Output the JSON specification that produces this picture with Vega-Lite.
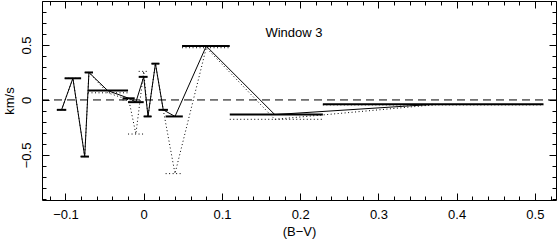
{
  "$schema": "https://vega.github.io/schema/vega-lite/v6.json",
  "autosize": "none",
  "width": 514,
  "height": 199,
  "padding": {"left": 42, "top": 1, "right": 3, "bottom": 42},
  "config": {
    "view": {"stroke": "#000", "strokeWidth": 1},
    "font": "Liberation Sans",
    "axis": {"grid": false, "domain": false, "tickColor": "#000", "labelColor": "#000", "titleColor": "#000", "labelFont": "Liberation Sans", "titleFont": "Liberation Sans", "labelFontSize": 13, "titleFontSize": 13, "titleFontWeight": "normal"}
  },
  "datasets": {
    "pts": [
      {"x": -0.105, "xlo": -0.111, "xhi": -0.099, "y": -0.09, "s": "solid"},
      {"x": -0.0905, "xlo": -0.101, "xhi": -0.080, "y": 0.197, "s": "solid"},
      {"x": -0.0754, "xlo": -0.0806, "xhi": -0.070, "y": -0.515, "s": "solid"},
      {"x": -0.070, "xlo": -0.0754, "xhi": -0.0648, "y": 0.25, "s": "solid"},
      {"x": -0.046, "xlo": -0.0712, "xhi": -0.020, "y": 0.085, "s": "solid"},
      {"x": -0.019, "xlo": -0.027, "xhi": -0.0115, "y": 0.015, "s": "solid"},
      {"x": -0.010, "xlo": -0.020, "xhi": 0.0, "y": -0.02, "s": "solid"},
      {"x": 0.0, "xlo": -0.0064, "xhi": 0.005, "y": 0.21, "s": "solid"},
      {"x": 0.0055, "xlo": 0.0, "xhi": 0.010, "y": -0.15, "s": "solid"},
      {"x": 0.015, "xlo": 0.010, "xhi": 0.020, "y": 0.33, "s": "solid"},
      {"x": 0.025, "xlo": 0.019, "xhi": 0.031, "y": -0.09, "s": "solid"},
      {"x": 0.040, "xlo": 0.028, "xhi": 0.050, "y": -0.15, "s": "solid"},
      {"x": 0.080, "xlo": 0.049, "xhi": 0.110, "y": 0.49, "s": "solid"},
      {"x": 0.1675, "xlo": 0.110, "xhi": 0.229, "y": -0.133, "s": "solid"},
      {"x": 0.37, "xlo": 0.229, "xhi": 0.511, "y": -0.04, "s": "solid"},
      {"x": -0.105, "xlo": -0.111, "xhi": -0.099, "y": -0.09, "s": "dotted"},
      {"x": -0.0905, "xlo": -0.101, "xhi": -0.080, "y": 0.197, "s": "dotted"},
      {"x": -0.0754, "xlo": -0.0806, "xhi": -0.070, "y": -0.515, "s": "dotted"},
      {"x": -0.070, "xlo": -0.0754, "xhi": -0.0648, "y": 0.25, "s": "dotted"},
      {"x": -0.046, "xlo": -0.0712, "xhi": -0.020, "y": 0.065, "s": "dotted"},
      {"x": -0.019, "xlo": -0.027, "xhi": -0.0115, "y": 0.0, "s": "dotted"},
      {"x": -0.010, "xlo": -0.020, "xhi": 0.0, "y": -0.31, "s": "dotted"},
      {"x": 0.0, "xlo": -0.0064, "xhi": 0.005, "y": 0.26, "s": "dotted"},
      {"x": 0.0055, "xlo": 0.0, "xhi": 0.010, "y": -0.15, "s": "dotted"},
      {"x": 0.015, "xlo": 0.010, "xhi": 0.020, "y": 0.33, "s": "dotted"},
      {"x": 0.025, "xlo": 0.019, "xhi": 0.031, "y": -0.09, "s": "dotted"},
      {"x": 0.040, "xlo": 0.028, "xhi": 0.050, "y": -0.67, "s": "dotted"},
      {"x": 0.080, "xlo": 0.049, "xhi": 0.110, "y": 0.475, "s": "dotted"},
      {"x": 0.1675, "xlo": 0.110, "xhi": 0.229, "y": -0.176, "s": "dotted"},
      {"x": 0.37, "xlo": 0.229, "xhi": 0.511, "y": -0.045, "s": "dotted"}
    ]
  },
  "resolve": {"axis": {"x": "independent", "y": "independent"}},
  "layer": [
    {
      "data": {"values": [{"zero": 0}]},
      "mark": {"type": "rule", "color": "#000", "strokeWidth": 1, "strokeDash": [8, 5]},
      "encoding": {
        "y": {"field": "zero", "type": "quantitative", "scale": {"domain": [-0.91, 0.9], "nice": false, "zero": false}, "axis": null}
      }
    },
    {
      "data": {"name": "pts"},
      "transform": [{"filter": "datum.s === 'dotted'"}],
      "mark": {"type": "line", "color": "#000", "strokeWidth": 1, "strokeDash": [1, 2.5]},
      "encoding": {
        "x": {"field": "x", "type": "quantitative", "scale": {"domain": [-0.13, 0.527], "nice": false, "zero": false},
          "axis": {"orient": "bottom", "values": [-0.1, 0, 0.1, 0.2, 0.3, 0.4, 0.5], "format": "~g", "ticks": false, "labelPadding": 8, "title": "(B−V)", "titlePadding": 4}},
        "y": {"field": "y", "type": "quantitative", "scale": {"domain": [-0.91, 0.9], "nice": false, "zero": false},
          "axis": {"orient": "left", "values": [-0.5, 0, 0.5], "format": "~g", "ticks": false, "labelAngle": -90, "labelAlign": "center", "labelBaseline": "bottom", "labelPadding": 9, "title": "km/s", "titlePadding": 4}},
        "order": {"field": "x", "type": "quantitative"}
      }
    },
    {
      "data": {"name": "pts"},
      "transform": [{"filter": "datum.s === 'solid'"}],
      "mark": {"type": "line", "color": "#000", "strokeWidth": 1},
      "encoding": {
        "x": {"field": "x", "type": "quantitative",
          "axis": {"orient": "bottom", "values": [-0.1, 0, 0.1, 0.2, 0.3, 0.4, 0.5], "labels": false, "tickSize": -7, "title": null}},
        "y": {"field": "y", "type": "quantitative",
          "axis": {"orient": "left", "values": [-0.5, 0, 0.5], "labels": false, "tickSize": -7, "title": null}},
        "order": {"field": "x", "type": "quantitative"}
      }
    },
    {
      "data": {"name": "pts"},
      "transform": [{"filter": "datum.s === 'dotted'"}],
      "mark": {"type": "rule", "color": "#000", "strokeWidth": 1, "strokeDash": [1, 2.5]},
      "encoding": {
        "x": {"field": "xlo", "type": "quantitative",
          "axis": {"orient": "bottom", "values": [-0.12, -0.1, -0.08, -0.06, -0.04, -0.02, 0, 0.02, 0.04, 0.06, 0.08, 0.1, 0.12, 0.14, 0.16, 0.18, 0.2, 0.22, 0.24, 0.26, 0.28, 0.3, 0.32, 0.34, 0.36, 0.38, 0.4, 0.42, 0.44, 0.46, 0.48, 0.5, 0.52], "labels": false, "tickSize": -4, "title": null}},
        "x2": {"field": "xhi"},
        "y": {"field": "y", "type": "quantitative",
          "axis": {"orient": "left", "values": [-0.9, -0.8, -0.7, -0.6, -0.5, -0.4, -0.3, -0.2, -0.1, 0, 0.1, 0.2, 0.3, 0.4, 0.5, 0.6, 0.7, 0.8, 0.9], "labels": false, "tickSize": -4, "title": null}}
      }
    },
    {
      "data": {"name": "pts"},
      "transform": [{"filter": "datum.s === 'solid'"}],
      "mark": {"type": "rule", "color": "#000", "strokeWidth": 2},
      "encoding": {
        "x": {"field": "xlo", "type": "quantitative",
          "axis": {"orient": "top", "values": [-0.1, 0, 0.1, 0.2, 0.3, 0.4, 0.5], "labels": false, "tickSize": -7, "title": null}},
        "x2": {"field": "xhi"},
        "y": {"field": "y", "type": "quantitative",
          "axis": {"orient": "right", "values": [-0.5, 0, 0.5], "labels": false, "tickSize": -7, "title": null}}
      }
    },
    {
      "data": {"values": [{"label": "Window 3", "x": 0.192, "y": 0.575}]},
      "mark": {"type": "text", "color": "#000", "fontSize": 13, "font": "Liberation Sans", "align": "center", "baseline": "alphabetic"},
      "encoding": {
        "x": {"field": "x", "type": "quantitative",
          "axis": {"orient": "top", "values": [-0.12, -0.1, -0.08, -0.06, -0.04, -0.02, 0, 0.02, 0.04, 0.06, 0.08, 0.1, 0.12, 0.14, 0.16, 0.18, 0.2, 0.22, 0.24, 0.26, 0.28, 0.3, 0.32, 0.34, 0.36, 0.38, 0.4, 0.42, 0.44, 0.46, 0.48, 0.5, 0.52], "labels": false, "tickSize": -4, "title": null}},
        "y": {"field": "y", "type": "quantitative",
          "axis": {"orient": "right", "values": [-0.9, -0.8, -0.7, -0.6, -0.5, -0.4, -0.3, -0.2, -0.1, 0, 0.1, 0.2, 0.3, 0.4, 0.5, 0.6, 0.7, 0.8, 0.9], "labels": false, "tickSize": -4, "title": null}},
        "text": {"field": "label"}
      }
    }
  ]
}
